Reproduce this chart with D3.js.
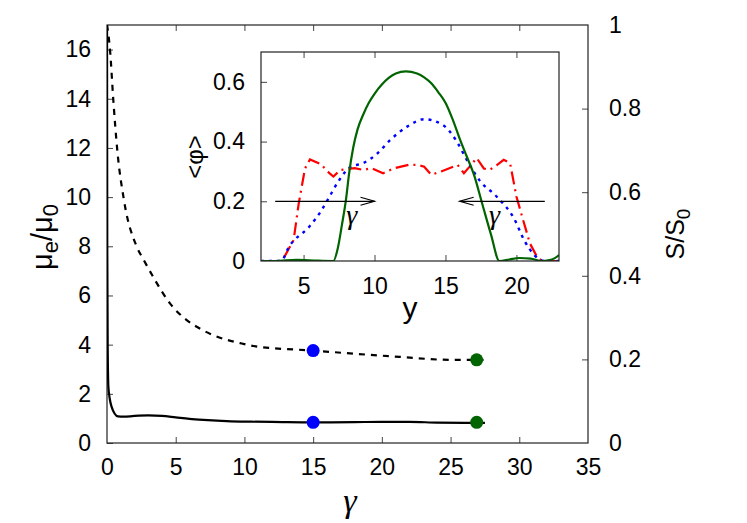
<!DOCTYPE html>
<html>
<head>
<meta charset="utf-8">
<script src="https://cdn.jsdelivr.net/npm/d3@7"></script>
<style>
  body { margin: 0; background: #fff; }
  text { font-family: "Liberation Sans", Arial, sans-serif; fill: #000; }
</style>
</head>
<body>
<svg id="chart" width="747" height="523"></svg>
<script>
// main plot: viscosity ratio (left axis) and S/S0 (right axis) vs strain gamma
var muGamma = [0, 0.02, 0.05, 0.1, 0.2, 0.35, 0.55, 0.8, 1.2, 2, 3, 4, 5, 6, 7, 8, 9, 10, 12, 15, 18, 20, 22, 24, 26, 27.5];
var muValues = [17.5, 8, 4, 2.3, 1.8, 1.45, 1.2, 1.08, 1.07, 1.1, 1.12, 1.1, 1.04, 0.98, 0.94, 0.91, 0.88, 0.87, 0.86, 0.84, 0.85, 0.86, 0.86, 0.83, 0.82, 0.82];

var sGamma = [0, 0.09, 0.22, 0.46, 0.75, 1.24, 2.16, 2.64, 3.49, 4.58, 5.8, 6.53, 7.73, 9.68, 10.65, 15, 21.3, 24.96, 27.4];
var sValues = [1.0, 0.98, 0.94, 0.82, 0.70, 0.58, 0.47, 0.44, 0.39, 0.334, 0.294, 0.278, 0.258, 0.239, 0.232, 0.221, 0.206, 0.199, 0.199];

var markerGamma = [15, 26.9];
var markerMu = [0.84, 0.84];
var markerS = [0.221, 0.199];
var markerColors = ["#0000ff", "#006400"];

var xTicks = [0, 5, 10, 15, 20, 25, 30, 35];
var yLeftTicks = [0, 2, 4, 6, 8, 10, 12, 14, 16];
var yRightTicks = [0, 0.2, 0.4, 0.6, 0.8, 1];

// inset: <phi> profiles across y
var greenY = [2, 3, 4.5, 6, 7.1, 7.4, 7.7, 8.0, 8.2, 8.5, 8.8, 9.2, 9.6, 10, 10.5, 11, 11.5, 12.2, 13, 13.5, 14, 14.5, 15, 15.5, 16, 16.5, 17, 17.6, 18.2, 18.8, 19.5, 20.2, 21, 21.8, 22.5, 23];
var greenPhi = [0, 0, 0.004, 0.001, 0, 0.04, 0.12, 0.21, 0.29, 0.38, 0.44, 0.49, 0.53, 0.56, 0.59, 0.613, 0.628, 0.635, 0.628, 0.615, 0.595, 0.565, 0.53, 0.475, 0.41, 0.35, 0.29, 0.19, 0.09, 0, 0.005, 0.01, 0.008, 0, 0.005, 0.02];

var blueY = [2, 3.4, 4.0, 5.4, 6.2, 6.7, 7.5, 8.3, 9.2, 10.2, 11.1, 12.3, 13.5, 14.8, 15.8, 16.6, 17.4, 18.6, 19.8, 20.6, 21.3, 22, 23];
var bluePhi = [0, 0, 0.05, 0.115, 0.165, 0.205, 0.27, 0.315, 0.328, 0.36, 0.405, 0.45, 0.475, 0.456, 0.4, 0.33, 0.27, 0.216, 0.145, 0.065, 0.018, 0, 0];

var redY = [2, 3.5, 3.6, 4.3, 4.65, 5.1, 5.45, 6.2, 6.8, 7.1, 7.6, 8.6, 9.2, 9.8, 10.6, 11.4, 12.4, 13.0, 13.5, 14.0, 14.7, 15.85, 16.3, 16.7, 17.2, 17.7, 18.1, 18.6, 19.1, 19.55, 20.0, 20.4, 20.95, 21.45, 21.8, 23];
var redPhi = [0, 0, 0.01, 0.07, 0.19, 0.31, 0.34, 0.325, 0.295, 0.283, 0.305, 0.311, 0.305, 0.311, 0.294, 0.311, 0.322, 0.322, 0.316, 0.289, 0.3, 0.322, 0.294, 0.316, 0.345, 0.31, 0.305, 0.32, 0.339, 0.328, 0.216, 0.149, 0.059, 0.014, 0, 0];

var insetXTicks = [5, 10, 15, 20];
var insetYTicks = [0, 0.2, 0.4, 0.6];

var svg = d3.select("#chart");

var x = d3.scaleLinear().domain([0, 35]).range([107, 588]);
var yL = d3.scaleLinear().domain([0, 17]).range([443, 25]);
var yR = d3.scaleLinear().domain([0, 1]).range([443, 25]);

var defs = svg.append("defs");
defs.append("clipPath").attr("id", "mainClip")
  .append("rect").attr("x", 107).attr("y", 25).attr("width", 481).attr("height", 418);
defs.append("clipPath").attr("id", "insetClip")
  .append("rect").attr("x", 261).attr("y", 52).attr("width", 298).attr("height", 209);

function styleAxis(g, size) {
  g.select(".domain").remove();
  g.selectAll(".tick line").attr("stroke", "#444");
  g.selectAll(".tick text").attr("font-size", size + "px").attr("fill", "#000")
    .attr("font-family", "Liberation Sans, Arial, sans-serif");
}

// main axes
svg.append("g").attr("transform", "translate(0,443)")
  .call(d3.axisBottom(x).tickValues(xTicks).tickSize(-6).tickPadding(16).tickFormat(d3.format("d")))
  .call(styleAxis, 23)
  .call(function(g) { g.selectAll(".tick line").filter(function(d) { return d == 0 || d == 35; }).remove(); });

svg.append("g").attr("transform", "translate(0,25)")
  .call(d3.axisTop(x).tickValues(xTicks.slice(1, -1)).tickSize(-6).tickFormat(""))
  .call(styleAxis, 23);

svg.append("g").attr("transform", "translate(107,0)")
  .call(d3.axisLeft(yL).tickValues(yLeftTicks).tickSize(-6).tickPadding(16).tickFormat(d3.format("d")))
  .call(styleAxis, 23);

svg.append("g").attr("transform", "translate(588,0)")
  .call(d3.axisRight(yR).tickValues(yRightTicks).tickSize(-6).tickPadding(21).tickFormat(function(d) { return d == 0 || d == 1 ? d : d3.format(".1f")(d); }))
  .call(styleAxis, 23)
  .call(function(g) { g.selectAll(".tick line").filter(function(d) { return d == 0 || d == 1; }).remove(); });

svg.append("rect").attr("x", 107).attr("y", 25).attr("width", 481).attr("height", 418)
  .attr("fill", "none").attr("stroke", "#222").attr("stroke-width", 1.2);

// main curves
var plot = svg.append("g").attr("clip-path", "url(#mainClip)");

var muLine = d3.line().x(function(d) { return x(d[0]); }).y(function(d) { return yL(d[1]); }).curve(d3.curveMonotoneX);
var sLine = d3.line().x(function(d) { return x(d[0]); }).y(function(d) { return yR(d[1]); }).curve(d3.curveMonotoneX);

plot.append("path").datum(d3.zip(sGamma, sValues)).attr("d", sLine)
  .attr("fill", "none").attr("stroke", "#000").attr("stroke-width", 2.2).attr("stroke-dasharray", "6,6");

plot.append("path").datum(d3.zip(muGamma, muValues)).attr("d", muLine)
  .attr("fill", "none").attr("stroke", "#000").attr("stroke-width", 2.2);

markerGamma.forEach(function(g, i) {
  svg.append("circle").attr("cx", x(g)).attr("cy", yL(markerMu[i])).attr("r", 6.5).attr("fill", markerColors[i]);
  svg.append("circle").attr("cx", x(g)).attr("cy", yR(markerS[i])).attr("r", 6.5).attr("fill", markerColors[i]);
});

// main labels
svg.append("text").attr("transform", "translate(52,237) rotate(-90)").attr("text-anchor", "middle")
  .attr("font-size", "29px")
  .call(function(t) {
    t.append("tspan").text("μ");
    t.append("tspan").attr("font-size", "22px").attr("dy", 6).text("e");
    t.append("tspan").attr("dy", -6).text("/μ");
    t.append("tspan").attr("font-size", "22px").attr("dy", 6).text("0");
  });

svg.append("text").attr("transform", "translate(684,234) rotate(-90)").attr("text-anchor", "middle")
  .attr("font-size", "25px")
  .call(function(t) {
    t.append("tspan").text("S/S");
    t.append("tspan").attr("font-size", "19px").attr("dy", 6).text("0");
  });

svg.append("text").attr("x", 350).attr("y", 512).attr("text-anchor", "middle")
  .attr("font-size", "34px").attr("font-style", "italic").style("font-family", "Liberation Serif, serif").text("γ");

// inset
var ix = d3.scaleLinear().domain([2, 23]).range([261, 559]);
var iy = d3.scaleLinear().domain([0, 0.7]).range([261, 52]);

svg.append("rect").attr("x", 261).attr("y", 52).attr("width", 298).attr("height", 209).attr("fill", "#fff");

svg.append("g").attr("transform", "translate(0,261)")
  .call(d3.axisBottom(ix).tickValues(insetXTicks).tickSize(-6).tickPadding(17))
  .call(styleAxis, 23);
svg.append("g").attr("transform", "translate(0,52)")
  .call(d3.axisTop(ix).tickValues(insetXTicks).tickSize(-6).tickFormat(""))
  .call(styleAxis, 23);
svg.append("g").attr("transform", "translate(261,0)")
  .call(d3.axisLeft(iy).tickValues(insetYTicks).tickSize(-6).tickPadding(16).tickFormat(function(d) { return d == 0 ? "0" : d3.format(".1f")(d); }))
  .call(styleAxis, 23)
  .call(function(g) { g.selectAll(".tick line").filter(function(d) { return d == 0; }).remove(); });

var inset = svg.append("g").attr("clip-path", "url(#insetClip)");
var iLine = d3.line().x(function(d) { return ix(d[0]); }).y(function(d) { return iy(d[1]); });

inset.append("path").datum(d3.zip(redY, redPhi)).attr("d", iLine)
  .attr("fill", "none").attr("stroke", "#ff0000").attr("stroke-width", 2.2).attr("stroke-dasharray", "13,5,2,5");
inset.append("path").datum(d3.zip(blueY, bluePhi)).attr("d", iLine.curve(d3.curveMonotoneX))
  .attr("fill", "none").attr("stroke", "#0000ff").attr("stroke-width", 2.4).attr("stroke-dasharray", "3,5");
inset.append("path").datum(d3.zip(greenY, greenPhi)).attr("d", iLine.curve(d3.curveMonotoneX))
  .attr("fill", "none").attr("stroke", "#006400").attr("stroke-width", 2.2);

// arrows showing the direction of shear
var arrows = [[3, 10], [22, 16]];
arrows.forEach(function(a) {
  var x0 = ix(a[0]), x1 = ix(a[1]), yy = iy(0.2), dir = x1 > x0 ? 1 : -1;
  svg.append("line").attr("x1", x0).attr("x2", x1).attr("y1", yy).attr("y2", yy).attr("stroke", "#000").attr("stroke-width", 1.2);
  svg.append("path").attr("d", "M" + (x1 - dir * 14) + "," + (yy - 4) + "L" + x1 + "," + yy + "L" + (x1 - dir * 14) + "," + (yy + 4))
    .attr("fill", "none").attr("stroke", "#000").attr("stroke-width", 1.2);
});
[8.4, 18.45].forEach(function(v) {
  svg.append("text").attr("x", ix(v)).attr("y", 224).attr("text-anchor", "middle")
    .attr("font-size", "28px").attr("font-style", "italic").style("font-family", "Liberation Serif, serif").text("γ");
});

svg.append("rect").attr("x", 261).attr("y", 52).attr("width", 298).attr("height", 209)
  .attr("fill", "none").attr("stroke", "#222").attr("stroke-width", 1.2);

svg.append("text").attr("x", 410).attr("y", 318).attr("text-anchor", "middle").attr("font-size", "30px").text("y");
svg.append("text").attr("transform", "translate(203,157) rotate(-90)").attr("text-anchor", "middle")
  .attr("font-size", "24px").text("<φ>");
</script>
</body>
</html>
